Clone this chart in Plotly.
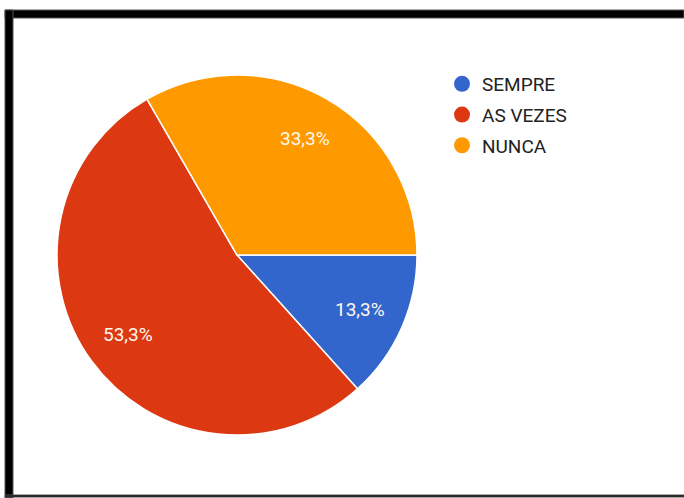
import numpy as np
import plotly.graph_objects as go

# Survey answers and their counts
categories = ["SEMPRE", "AS VEZES", "NUNCA"]
counts = [2, 8, 5]
colors = ["#3366CC", "#DC3912", "#FF9900"]

W, H = 684, 498


def px_x(v):
    return v / W


def px_y(v):
    return 1 - v / H


# Pie placement (pixels): centre and radius
CX, CY, R = 237, 255, 180
START_DEG = 0  # first slice starts at 3 o'clock and runs clockwise

fig = go.Figure()

fig.add_trace(go.Pie(
    labels=categories,
    values=counts,
    sort=False,
    direction="clockwise",
    rotation=90,
    marker=dict(colors=colors, line=dict(color="white", width=1.5)),
    textinfo="none",
    domain=dict(x=[px_x(CX - R), px_x(CX + R)], y=[px_y(CY + R), px_y(CY - R)]),
    showlegend=False,
    hoverinfo="label+percent",
))

# Percentage labels placed at the middle angle of each slice
vals = np.array(counts, dtype=float)
shares = vals / vals.sum()
ends = np.cumsum(shares) * 360.0
mids = ends - shares * 180.0
annotations = []
for share, mid in zip(shares, mids):
    theta = np.deg2rad(START_DEG - mid)
    px = CX + 0.75 * R * np.cos(theta)
    py = CY - 0.75 * R * np.sin(theta)
    annotations.append(dict(
        x=px_x(px), y=px_y(py), xref="paper", yref="paper",
        text=f"{share * 100:.1f}%".replace(".", ","), showarrow=False,
        font=dict(family="Roboto", size=19, color="#FFF8EE"),
        xanchor="center", yanchor="middle",
    ))

# Legend entries with round markers, one group per category
for name, col in zip(categories, colors):
    fig.add_trace(go.Scatter(
        x=[None], y=[None], mode="markers", name=name, legendgroup=name,
        marker=dict(color=col, size=16, symbol="circle"),
        showlegend=True,
    ))

frame = [
    # top bar
    dict(x0=px_x(5), x1=px_x(684), y0=px_y(18), y1=px_y(10)),
    # left bar
    dict(x0=px_x(5), x1=px_x(13), y0=px_y(498), y1=px_y(10)),
    # bottom edge
    dict(x0=px_x(5), x1=px_x(684), y0=px_y(497), y1=px_y(495)),
]
shapes = [dict(type="rect", xref="paper", yref="paper", fillcolor="#000000",
               line=dict(color="#555555", width=1), layer="above", **f) for f in frame]

fig.update_layout(
    width=W, height=H,
    margin=dict(l=0, r=0, t=0, b=0),
    paper_bgcolor="white", plot_bgcolor="white",
    separators=",.",
    font=dict(family="Roboto", color="#222222"),
    xaxis=dict(visible=False), yaxis=dict(visible=False),
    legend=dict(
        x=px_x(442), y=px_y(65), xanchor="left", yanchor="top",
        font=dict(family="Roboto", size=19, color="#222222"),
        tracegroupgap=3, bgcolor="rgba(0,0,0,0)",
    ),
    annotations=annotations,
    shapes=shapes,
)

fig.write_html("out.html")
